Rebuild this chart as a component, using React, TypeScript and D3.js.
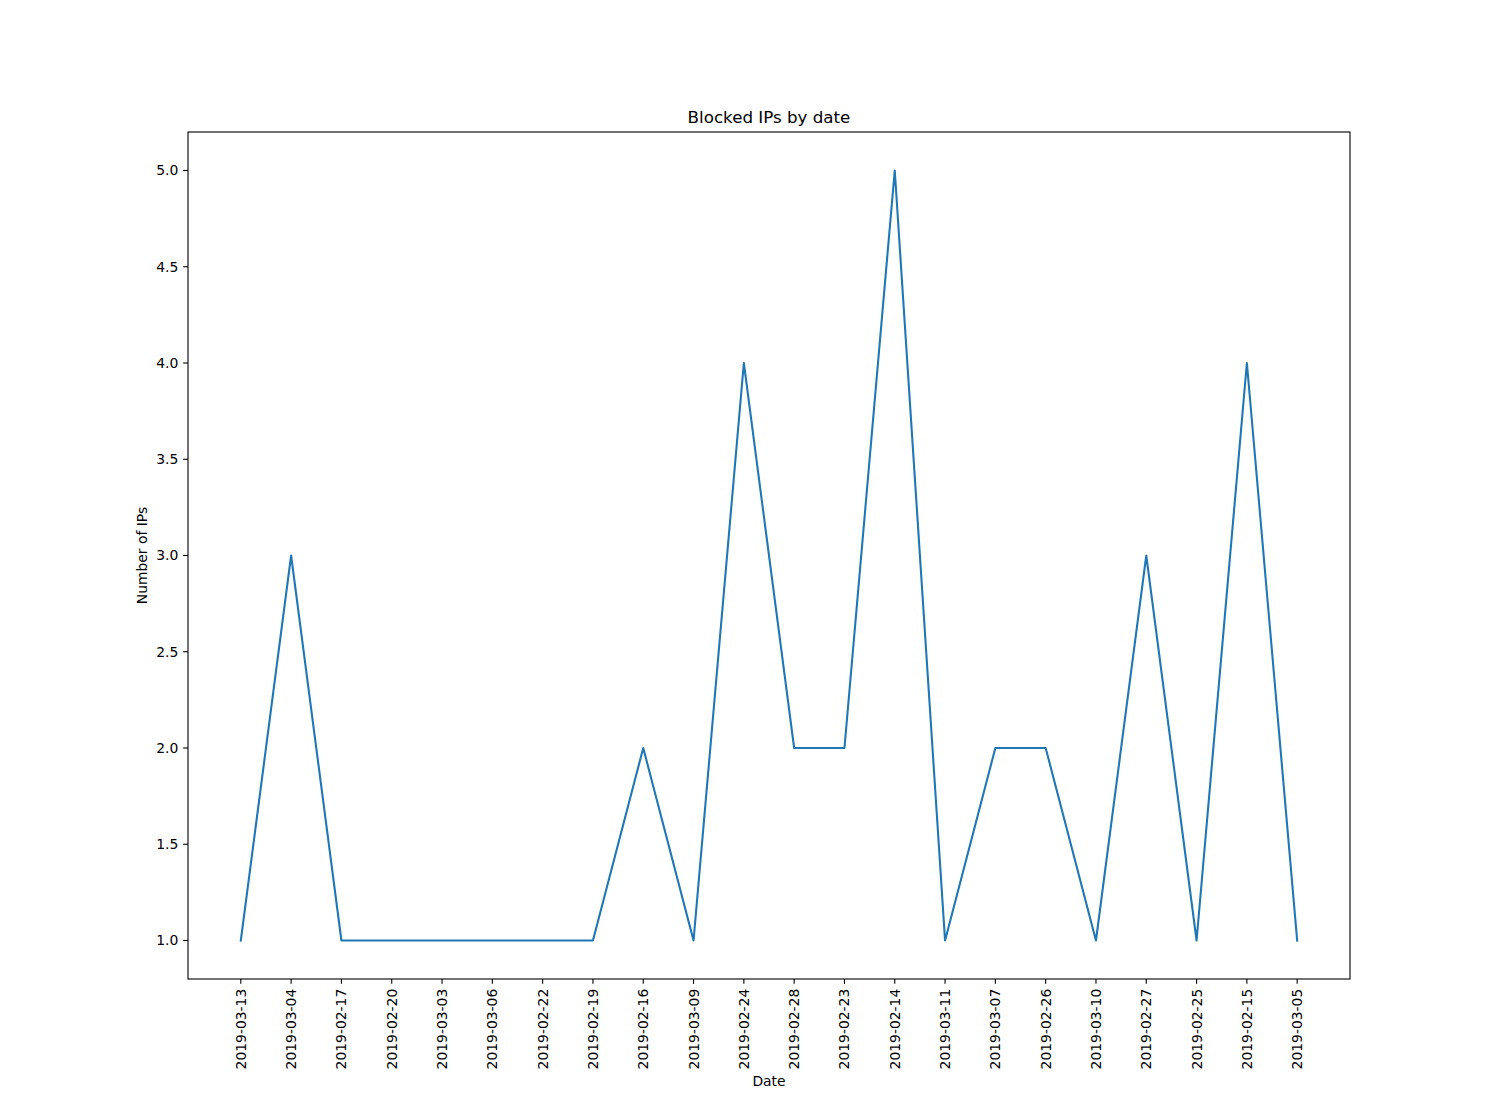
import React from "react";
import * as d3 from "d3";

const dates = [
  "2019-03-13", "2019-03-04", "2019-02-17", "2019-02-20", "2019-03-03", "2019-03-06",
  "2019-02-22", "2019-02-19", "2019-02-16", "2019-03-09", "2019-02-24", "2019-02-28",
  "2019-02-23", "2019-02-14", "2019-03-11", "2019-03-07", "2019-02-26", "2019-03-10",
  "2019-02-27", "2019-02-25", "2019-02-15", "2019-03-05",
];
const counts = [1, 3, 1, 1, 1, 1, 1, 1, 2, 1, 4, 2, 2, 5, 1, 2, 2, 1, 3, 1, 4, 1];
const yTicks = [1.0, 1.5, 2.0, 2.5, 3.0, 3.5, 4.0, 4.5, 5.0];

const W = 1500, H = 1100;
const L = 188, R = 1350, T = 132, B = 979;
const FONT = "DejaVu Sans, sans-serif";

export default function App() {
  const n = dates.length;
  const xPad = (n - 1) * 0.05;
  const x = d3.scaleLinear().domain([-xPad, n - 1 + xPad]).range([L, R]);
  const yMin = d3.min(counts)!, yMax = d3.max(counts)!;
  const yPad = (yMax - yMin) * 0.05;
  const y = d3.scaleLinear().domain([yMin - yPad, yMax + yPad]).range([B, T]);
  const line = d3.line<number>().x((_, i) => x(i)).y((d) => y(d));
  const tick = 4.86;

  return (
    <svg width={W} height={H} style={{ position: "absolute", left: 0, top: 0, background: "#fff" }} fontFamily={FONT}>
      <rect x={0} y={0} width={W} height={H} fill="#fff" />
      <path d={line(counts) || ""} fill="none" stroke="#1f77b4" strokeWidth={2.08} strokeLinejoin="round" strokeLinecap="square" />
      <rect x={L} y={T} width={R - L} height={B - T} fill="none" stroke="#000" strokeWidth={1.1} />
      {dates.map((d, i) => (
        <g key={d} transform={`translate(${x(i)},0)`}>
          <line y1={B} y2={B + tick} stroke="#000" strokeWidth={1.1} />
          <text transform={`translate(5,${B + tick + 4.86}) rotate(-90)`} textAnchor="end" fontSize={13.9} fill="#000">
            {d}
          </text>
        </g>
      ))}
      {yTicks.map((v) => (
        <g key={v} transform={`translate(0,${y(v)})`}>
          <line x1={L - tick} x2={L} stroke="#000" strokeWidth={1.1} />
          <text x={L - tick - 4.86} y={0} dy="0.35em" textAnchor="end" fontSize={13.9} fill="#000">
            {v.toFixed(1)}
          </text>
        </g>
      ))}
      <text x={(L + R) / 2} y={123} textAnchor="middle" fontSize={16.7} fill="#000">Blocked IPs by date</text>
      <text x={(L + R) / 2} y={1086} textAnchor="middle" fontSize={13.9} fill="#000">Date</text>
      <text transform={`translate(147,${(T + B) / 2}) rotate(-90)`} textAnchor="middle" fontSize={13.9} fill="#000">Number of IPs</text>
    </svg>
  );
}
